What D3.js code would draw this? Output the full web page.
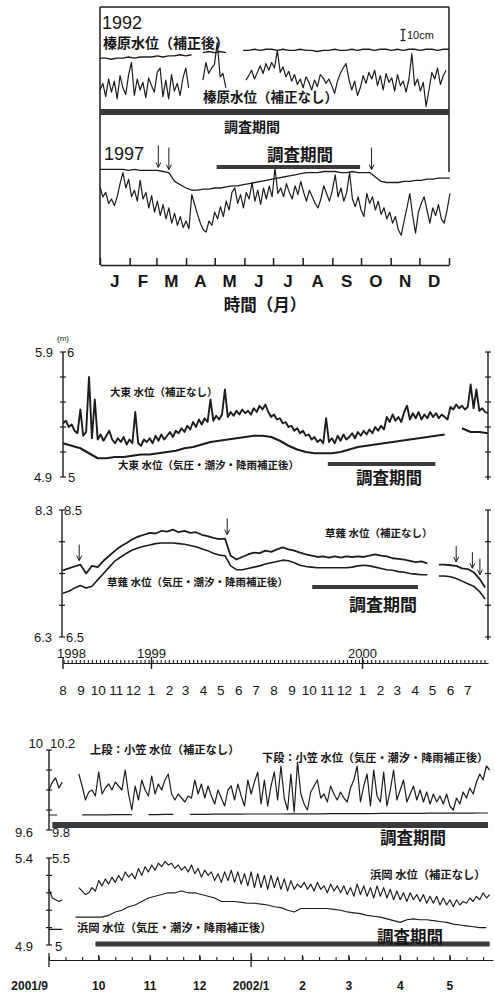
<!DOCTYPE html>
<html>
<head>
<meta charset="utf-8">
<script src="https://cdn.jsdelivr.net/npm/d3@7"></script>
<style>
  body { margin: 0; background: #fff; }
  text { font-family: "Liberation Sans", Arial, sans-serif; fill: #151515; }
  text.jp { font-family: "Noto Sans CJK JP", sans-serif; font-weight: bold; }
</style>
</head>
<body>
<svg id="fig" width="495" height="993"></svg>
<script>
// ---------- 榛原 1992 / 1997 (relative level, cm) ----------
const monthLetters = ["J","F","M","A","M","J","J","A","S","O","N","D"];
const haibara92Raw = [ // every 3 days from 1992-01-01
  20,26,14,30,18,28,12,33,22,16,34,45,15,30,20,27,13,31,24,18,36,40,14,29,12,34,19,26,15,31,40,22,
  null,null,null,null,
  29,45,35,40,43,63,32,35,22,
  null,null,null,null,null,null,
  29,33,38,30,36,42,35,44,38,45, 40,56,36,41,32,37,28,34,25,30, 22,32,27,20,29,23,34,31,26,30,
  24,17,28,35,40,44,30,20,28,15, 22,33,26,36,30,38,24,33,20,35, 27,31,19,34,24,28,18,30,53,24,
  30,19,27,5,20,36,30,40,25,33, 38
];
const haibara92Cor = [ // every 6 days
  49,49,48,49,49,50,49,50,50,50,51,50,51,51,52,51,52,
  null,
  54,55,54,55,54,
  null,null,
  56,56,57,56,57,57,56,57,56,56, 57,56,56,55,56,56,57,56,56,57,
  56,57,57,56,57,57,56,57,56,57, 57,56,57,57,56,57,57
];
const haibara97Raw = [ // every 3 days from 1997-01-01
  71,62,66,56,60,54,62,74,84,70, 78,62,68,58,77,60,66,52,63,48,
  58,45,55,42,52,38,47,36,44,34, 40,33,64,55,46,38,32,30,40,36,
  48,42,53,44,58,50,66,70,56,64, 52,66,60,75,58,68,55,70,60,72,
  62,88,65,70,62,74,66,60,72,64, 76,66,58,68,62,56,52,60,72,65,
  58,68,82,62,70,58,66,84,60,53, 62,50,44,65,56,62,50,58,46,52,
  42,48,38,44,32,27,40,52,65,45, 29,48,56,62,50,38,52,45,55,42,
  38,50,65
];
const haibara97Cor = [ // every 6 days
  87,87,87,87,87,86,87,86,86,86, 86,85,84,76,73,70,68,68,69,69,
  70,70,71,72,72,73,74,75,76,77, 78,79,80,81,82,83,84,84,84,85,
  85,85,84,84,85,84,84,84,80,76, 75,75,75,76,76,77,77,78,78,79,
  79,79
];
const arrows97 = ["1997-03-03", "1997-03-14", "1997-10-12"];
const survey92 = ["1992-01-01", "1993-01-01"];
const survey97 = ["1997-05-03", "1997-09-30"];

// ---------- 大東 / 草薙 1998-2000 (m) ----------
const daitoRaw = [ // every 5 days from 1998-08-01
  5.43,5.45,5.40,5.42,5.37,5.35,5.54,5.33,5.36,5.80, 5.31,5.62,5.30,5.34,5.29,5.33,5.37,5.30,5.27,5.31,
  5.28,5.32,5.26,5.30,5.27,5.52,5.27,5.25,5.30,5.28, 5.31,5.27,5.33,5.29,5.34,5.30,5.33,5.36,5.32,5.37,
  5.35,5.39,5.36,5.41,5.38,5.44,5.40,5.46,5.42,5.47, 5.44,5.62,5.45,5.49,5.46,5.50,5.70,5.48,5.52,5.49,
  5.53,5.50,5.54,5.51,5.53,5.50,5.55,5.52,5.57,5.54, 5.58,5.52,5.48,5.50,5.46,5.47,5.43,5.44,5.40,5.41,
  5.37,5.39,5.35,5.37,5.33,5.34,5.30,5.32,5.28,5.30, 5.27,5.47,5.28,5.31,5.27,5.33,5.29,5.34,5.30,5.32,
  5.35,5.31,5.36,5.33,5.37,5.34,5.38,5.35,5.40,5.37, 5.41,5.38,5.48,5.44,5.50,5.45,5.48,5.44,5.52,5.57,
  5.46,5.51,5.47,5.52,5.46,5.50,5.47,5.52,5.48,5.51, 5.47,5.50,5.48,5.46,5.56,5.54,5.58,5.55,5.57,5.54,
  5.56,5.74,5.55,5.70,5.53,5.55,5.52,5.51
];
const daitoCor = [ // every 15 days
  5.27,5.25,5.23,5.19,5.15,5.15,5.16,5.16,5.17,5.18, 5.18,5.19,5.20,5.21,5.23,5.24,5.26,5.28,5.29,5.30,
  5.31,5.32,5.33,5.33,5.32,5.29,5.25,5.22,5.20,5.19, 5.19,5.19,5.20,5.22,5.24,5.25,5.26,5.27,5.28,5.29,
  5.30,5.31,5.32,5.33,5.34,null,5.39,5.36,5.36,5.35
];
const kusanagiRaw = [ // every 10 days from 1998-08-01
  7.55,7.58,7.61,7.64,7.50,7.62,7.60,7.70,7.78,7.86, 7.93,7.98,8.04,8.08,8.11,8.14,8.13,8.17,8.16,8.19,
  8.15,8.17,8.14,8.15,8.11,8.09,8.06,8.04,8.05,7.78, 7.72,7.76,7.80,7.83,7.82,7.86,7.84,7.88,7.91,7.88,
  7.86,7.83,7.80,7.78,7.76,7.77,7.75,7.77,7.75,7.77, 7.76,7.77,7.76,7.78,7.80,7.78,7.77,7.74,7.73,7.72,
  7.70,7.68,7.69,7.66,null,7.64,7.64,7.63,7.62,7.58, 7.57,7.52,7.42,7.28
];
const kusanagiCor = [
  7.19,7.22,7.27,7.31,7.27,7.30,7.40,7.50,7.60,7.70, 7.76,7.82,7.87,7.90,7.93,7.95,7.97,7.98,7.98,7.98,
  7.97,7.96,7.94,7.92,7.89,7.86,7.82,7.79,7.78,7.62, 7.56,7.56,7.58,7.60,7.62,7.65,7.67,7.69,7.71,7.70,
  7.67,7.63,7.61,7.60,7.59,7.59,7.59,7.59,7.59,7.59, 7.60,7.62,7.63,7.62,7.60,7.58,7.56,7.55,7.53,7.52,
  7.50,7.49,7.48,7.48,null,7.46,7.46,7.45,7.42,7.38, 7.34,7.30,7.22,7.10
];
const kusanagiArrows = ["1998-08-29", "1999-05-12", "2000-06-11", "2000-07-09", "2000-07-22"];
const surveyDaito = ["1999-11-02", "2000-05-06"];
const surveyKusanagi = ["1999-10-06", "2000-04-06"];
const daitoTicks = [5, 5.2, 5.4, 5.6, 5.8, 6];
const kusanagiTicks = [6.5, 7, 7.5, 8, 8.5];
const midYearLabels = ["1998", "1999", "2000"];
const midYearDates = ["1998-08-01", "1999-01-01", "2000-01-01"];
const midMonthLabels = ["8","9","10","11","12","1","2","3","4","5","6","7","8","9","10","11","12","1","2","3","4","5","6","7"];

// ---------- 小笠 / 浜岡 2001-2002 (m) ----------
const ogasaRaw = [ // every 2 days from 2001-09-01
  10.00,10.04,10.06,10.01,10.04,null,null,null,null,10.08, 10.02,9.95,9.99,10.00,9.97,10.09,9.98,10.01,10.03,10.00,
  10.04,10.02,10.00,10.10,9.98,9.90,10.02,9.95,10.05,10.00, 9.97,10.07,9.98,10.03,10.00,10.05,10.08,9.98,9.95,9.98,
  9.96,9.94,9.97,9.96,10.05,9.98,10.03,9.96,10.02,9.97, 9.93,10.00,9.96,9.92,10.00,10.02,9.95,10.03,9.97,9.92,
  10.05,9.98,10.04,10.09,9.93,10.05,9.92,10.02,10.09,9.95, 10.12,9.96,9.90,10.08,9.89,10.14,9.98,9.93,9.90,9.99,
  10.02,10.05,9.96,9.98,9.94,10.02,9.98,9.95,9.99,9.96, 9.94,10.01,10.05,10.12,9.94,10.02,10.08,9.92,10.10,9.97,
  9.94,10.09,9.92,10.00,10.10,9.95,10.00,10.05,9.94,9.98, 10.02,9.95,10.00,9.94,9.99,9.93,9.98,9.94,9.97,9.93,
  9.98,9.92,9.90,9.96,9.93,9.99,9.96,10.01,9.98,10.04, 10.08,10.05,10.12,10.10
];
const ogasaCor = [ // every 5 days
  9.875,9.875,null,null,9.876,9.876,9.876,9.876,9.877,9.877,9.877,null,9.877,9.877,9.878,9.878,null,
  9.878,9.878,9.878,9.879,9.879,9.879,9.879,9.880,9.880,9.880, 9.880,9.880,9.881,9.881,9.881,9.881,9.881,9.882,9.882,9.882,
  9.882,9.882,9.882,9.883,9.883,9.883,9.883,9.883,9.883,9.884, 9.884,9.884,9.884,9.884,9.884,9.885,9.885
];
const hamaokaRaw = [ // every 2 days from 2001-09-01
  5.32,5.27,5.26,5.25,5.26,null,null,null,null,5.33, 5.31,5.29,5.30,5.33,5.31,5.37,5.34,5.38,5.35,5.39,
  5.36,5.40,5.37,5.42,5.39,5.41,5.38,5.44,5.40,5.45, 5.42,5.46,5.43,5.47,5.45,5.48,5.46,5.47,5.44,5.46,
  5.43,5.45,5.42,5.46,5.41,5.44,5.39,5.43,5.40,5.42, 5.37,5.41,5.36,5.42,5.37,5.43,5.36,5.42,5.35,5.41,
  5.34,5.42,5.33,5.41,5.33,5.40,5.32,5.40,5.33,5.39, 5.32,5.38,5.31,5.37,5.32,5.35,5.33,5.36,5.32,5.35,
  5.31,5.36,5.32,5.34,5.30,5.35,5.31,5.34,5.30,5.34, 5.29,5.33,5.28,5.35,5.29,5.34,5.28,5.33,5.27,5.34,
  5.28,5.33,5.27,5.32,5.26,5.31,5.26,5.30,5.25,5.30, 5.26,5.29,5.25,5.29,5.24,5.28,5.24,5.28,5.23,5.27,
  5.23,5.26,5.22,5.26,5.23,5.25,5.24,5.27,5.25,5.28, 5.26,5.30,5.27,5.29
];
const hamaokaCor = [ // every 4 days
  5.09,5.09,5.09,null,5.16,5.16,5.16,5.16,5.16,5.17, 5.19,5.20,5.22,5.23,5.25,5.27,5.28,5.29,5.30,5.30,
  5.31,5.30,5.30,5.29,5.28,5.27,5.25,5.25,5.25,5.245, 5.24,5.24,5.235,5.23,5.22,5.215,5.20,5.19,5.21,5.21,
  5.21,5.21,5.21,5.205,5.20,5.19,5.185,5.18,5.17,5.165, 5.16,5.15,5.14,5.13,5.145,5.15,5.145,5.145,5.14,5.135,
  5.13,5.12,5.115,5.11,5.105,5.10,5.10
];
const surveyOgasa = ["2001-09-03", "2002-05-24"];
const surveyHamaoka = ["2001-09-29", "2002-05-25"];
const ogasaTicks = [9.8, 9.9, 10.0, 10.1, 10.2];
const hamaokaTicks = [5.0, 5.1, 5.2, 5.3, 5.4, 5.5];
const bottomMonthLabels = ["2001/9","10","11","12","2002/1","2","3","4","5"];

// ---------- helpers ----------
const parse = d3.timeParse("%Y-%m-%d");
const ink = "#1c1c1c";
const svg = d3.select("#fig");

function toSeries(start, step, values) {
  const t0 = parse(start);
  return values.map((v, i) => ({date: d3.timeDay.offset(t0, i * step), v: v}));
}

function plotLine(g, x, y, data, w) {
  g.append("path").datum(data)
    .attr("fill", "none")
    .attr("stroke", ink)
    .attr("stroke-width", w)
    .attr("stroke-linejoin", "round")
    .attr("d", d3.line().defined(d => d.v !== null).x(d => x(d.date)).y(d => y(d.v)));
}

function surveyBar(g, x, range, yc, h) {
  const a = x(parse(range[0])), b = x(parse(range[1]));
  g.append("rect").attr("x", a).attr("width", b - a)
    .attr("y", yc - h / 2).attr("height", h)
    .attr("fill", "#3a3a3a");
}

function txt(g, x, y, s, size, anchor, jp, bold) {
  g.append("text").attr("x", x).attr("y", y)
    .attr("font-size", size)
    .attr("text-anchor", anchor || "start")
    .attr("class", jp ? "jp" : null)
    .attr("font-weight", bold ? "bold" : null)
    .text(s);
}

function seg(g, x1, y1, x2, y2, w) {
  g.append("line").attr("x1", x1).attr("y1", y1).attr("x2", x2).attr("y2", y2)
    .attr("stroke", ink).attr("stroke-width", w || 1.2);
}

function valueAt(data, date) {
  const def = data.filter(d => d.v !== null);
  return def[d3.bisector(d => d.date).center(def, date)].v;
}

function arrow(g, x, yTip, len) {
  seg(g, x, yTip - len, x, yTip, 1);
  g.append("path").attr("d", `M${x - 2.5},${yTip - 5}L${x},${yTip}L${x + 2.5},${yTip - 5}`)
    .attr("fill", "none").attr("stroke", ink).attr("stroke-width", 1);
}

function valueAxis(g, x, y, ticks, ext) {
  seg(g, x, y(d3.max(ticks)), x, y(d3.min(ticks)) + (ext || 0), 1.4);
  ticks.forEach(t => seg(g, x - 3, y(t), x + 3, y(t), 1.2));
}

// ---------- top panel: 榛原 ----------
const topG = svg.append("g");
const x92 = d3.scaleTime().domain([parse("1992-01-01"), parse("1993-01-01")]).range([100, 449]);
const y92 = d3.scaleLinear().domain([0, 90]).range([112, 13]);
const x97 = d3.scaleTime().domain([parse("1997-01-01"), parse("1998-01-01")]).range([100, 449]);
const y97 = d3.scaleLinear().domain([0, 90]).range([265, 166]);

seg(topG, 100, 7, 449, 7, 1.5);
seg(topG, 100, 7, 100, 265, 1.5);
seg(topG, 449, 7, 449, 172, 1.5);
topG.append("g").attr("transform", "translate(0,265)")
  .call(d3.axisBottom(x97).ticks(d3.timeMonth.every(1)).tickSize(-7).tickSizeOuter(0).tickFormat(""))
  .call(g => g.selectAll("path,line").attr("stroke", ink).attr("stroke-width", 1.5));

const h92raw = toSeries("1992-01-01", 3, haibara92Raw);
const h92cor = toSeries("1992-01-01", 6, haibara92Cor);
const h97raw = toSeries("1997-01-01", 3, haibara97Raw);
const h97cor = toSeries("1997-01-01", 6, haibara97Cor);
plotLine(topG, x92, y92, h92raw, 1.2);
plotLine(topG, x92, y92, h92cor, 1.4);
plotLine(topG, x97, y97, h97raw, 1.2);
plotLine(topG, x97, y97, h97cor, 1.3);

surveyBar(topG, x92, survey92, 112, 6);
surveyBar(topG, x97, survey97, 167, 4);

arrows97.forEach(d => {
  const dt = parse(d);
  arrow(topG, x97(dt), y97(valueAt(h97cor, dt)) - 3, 22);
});

// 10 cm scale
seg(topG, 403, y92(75), 403, y92(65), 1.2);
seg(topG, 400.5, y92(75), 405.5, y92(75), 1.2);
seg(topG, 400.5, y92(65), 405.5, y92(65), 1.2);
txt(topG, 407, 39, "10cm", 11);

txt(topG, 102, 29, "1992", 18);
txt(topG, 104, 160, "1997", 18);
txt(topG, 103, 48, "榛原水位（補正後）", 14, "start", true);
txt(topG, 203, 102, "榛原水位（補正なし）", 13.5, "start", true);
txt(topG, 252, 132, "調査期間", 14, "middle", true);
txt(topG, 300, 161, "調査期間", 16.5, "middle", true);

monthLetters.forEach((m, i) => {
  const a = d3.timeMonth.offset(x97.domain()[0], i), b = d3.timeMonth.offset(a, 1);
  txt(topG, (x97(a) + x97(b)) / 2, 287, m, 17, "middle", false, true);
});
txt(topG, 265, 311, "時間（月）", 16.5, "middle", true);

// ---------- middle panels: 大東 / 草薙 ----------
const midG = svg.append("g");
const xM = d3.scaleTime().domain([parse("1998-08-01"), parse("2000-08-05")]).range([63, 488]);
const yDaito = d3.scaleLinear().domain([5, 6]).range([477, 352]);
const yKusa = d3.scaleLinear().domain([6.5, 8.5]).range([637, 510]);

valueAxis(midG, 63, yDaito, daitoTicks);
valueAxis(midG, 488, yDaito, daitoTicks, 3);
valueAxis(midG, 62, yKusa, kusanagiTicks);
valueAxis(midG, 488, yKusa, kusanagiTicks, 3);

const dRaw = toSeries("1998-08-01", 5, daitoRaw);
const dCor = toSeries("1998-08-01", 15, daitoCor);
const kRaw = toSeries("1998-08-01", 10, kusanagiRaw);
const kCor = toSeries("1998-08-01", 10, kusanagiCor);
plotLine(midG, xM, yDaito, dRaw, 1.9);
plotLine(midG, xM, yDaito, dCor, 2.2);
plotLine(midG, xM, yKusa, kRaw, 1.8);
plotLine(midG, xM, yKusa, kCor, 1.6);

surveyBar(midG, xM, surveyDaito, 464, 4);
surveyBar(midG, xM, surveyKusanagi, 587, 4);

kusanagiArrows.forEach(d => {
  const dt = parse(d);
  arrow(midG, xM(dt), yKusa(valueAt(kRaw, dt)) - 4, 16);
});

txt(midG, 57, 341, "(m)", 8);
txt(midG, 53, 357, "5.9", 13, "end");
txt(midG, 67, 357, "6", 13);
txt(midG, 52, 482, "4.9", 13, "end");
txt(midG, 68, 482, "5", 13);
txt(midG, 53, 515, "8.3", 13, "end");
txt(midG, 64, 515, "8.5", 13);
txt(midG, 52, 642, "6.3", 13, "end");
txt(midG, 66, 642, "6.5", 13);

txt(midG, 110, 396, "大東 水位（補正なし）", 10.5, "start", true);
txt(midG, 118, 469, "大東 水位（気圧・潮汐・降雨補正後）", 10.5, "start", true);
txt(midG, 389, 484, "調査期間", 16.5, "middle", true);
txt(midG, 325, 537, "草薙 水位（補正なし）", 10.5, "start", true);
txt(midG, 107, 586, "草薙 水位（気圧・潮汐・降雨補正後）", 10.5, "start", true);
txt(midG, 383, 611, "調査期間", 17, "middle", true);

midG.append("g").attr("transform", "translate(0,663)")
  .call(d3.axisBottom(xM).ticks(d3.timeWeek.every(1)).tickSize(-3).tickSizeOuter(0).tickFormat(""))
  .call(g => g.selectAll("path,line").attr("stroke", ink).attr("stroke-width", 1.1));
midYearDates.forEach((d, i) => {
  const xx = xM(parse(d));
  seg(midG, xx, 657, xx, 669, 1.4);
  txt(midG, i === 0 ? xx - 6 : xx, 658, midYearLabels[i], 13, i === 0 ? "start" : "middle");
});
midMonthLabels.forEach((m, i) => {
  txt(midG, xM(d3.timeMonth.offset(parse("1998-08-01"), i)), 695, m, 13.5, "middle");
});

// ---------- bottom panels: 小笠 / 浜岡 ----------
const botG = svg.append("g");
const xB = d3.scaleTime().domain([parse("2001-09-01"), parse("2002-05-27")]).range([49, 493]);
const yOgasa = d3.scaleLinear().domain([9.8, 10.2]).range([830, 750]);
const yHama = d3.scaleLinear().domain([5.0, 5.5]).range([945, 858]);

valueAxis(botG, 49, yOgasa, ogasaTicks);
valueAxis(botG, 49, yHama, hamaokaTicks);

plotLine(botG, xB, yOgasa, toSeries("2001-09-01", 2, ogasaRaw), 1.2);
plotLine(botG, xB, yOgasa, toSeries("2001-09-01", 5, ogasaCor), 1.2);
plotLine(botG, xB, yHama, toSeries("2001-09-01", 2, hamaokaRaw), 1.15);
plotLine(botG, xB, yHama, toSeries("2001-09-01", 4, hamaokaCor), 1.15);

surveyBar(botG, xB, surveyOgasa, 825, 6);
surveyBar(botG, xB, surveyHamaoka, 944, 5);

txt(botG, 43, 748, "10", 13, "end");
txt(botG, 50, 748, "10.2", 13);
txt(botG, 33, 837, "9.6", 13, "end");
txt(botG, 52, 837, "9.8", 13);
txt(botG, 33, 863, "5.4", 13, "end");
txt(botG, 52, 863, "5.5", 13);
txt(botG, 33, 951, "4.9", 13, "end");
txt(botG, 55, 951, "5", 13);

txt(botG, 90, 754, "上段：小笠 水位（補正なし）", 11.3, "start", true);
txt(botG, 262, 762, "下段：小笠 水位（気圧・潮汐・降雨補正後）", 11.2, "start", true);
txt(botG, 413, 844, "調査期間", 16.5, "middle", true);
txt(botG, 370, 879, "浜岡 水位（補正なし）", 11.3, "start", true);
txt(botG, 77, 932, "浜岡 水位（気圧・潮汐・降雨補正後）", 11.3, "start", true);
txt(botG, 410, 943, "調査期間", 16.5, "middle", true);

const tenDays = d3.timeDay.range(xB.domain()[0], xB.domain()[1]).filter(d => [1, 11, 21].includes(d.getDate()));
botG.append("g").attr("transform", "translate(0,960)")
  .call(d3.axisBottom(xB).tickValues(tenDays).tickSize(-3).tickSizeOuter(0).tickFormat(""))
  .call(g => g.selectAll("path,line").attr("stroke", ink).attr("stroke-width", 1.1));
bottomMonthLabels.forEach((m, i) => {
  const xx = xB(d3.timeMonth.offset(xB.domain()[0], i));
  const big = i === 0 || i === 4;
  seg(botG, xx, big ? 953 : 955, xx, big ? 967 : 960, 1.3);
  txt(botG, i === 0 ? xx - 1 : xx, 990, m, 12, i === 0 ? "end" : "middle", false, true);
});
</script>
</body>
</html>
